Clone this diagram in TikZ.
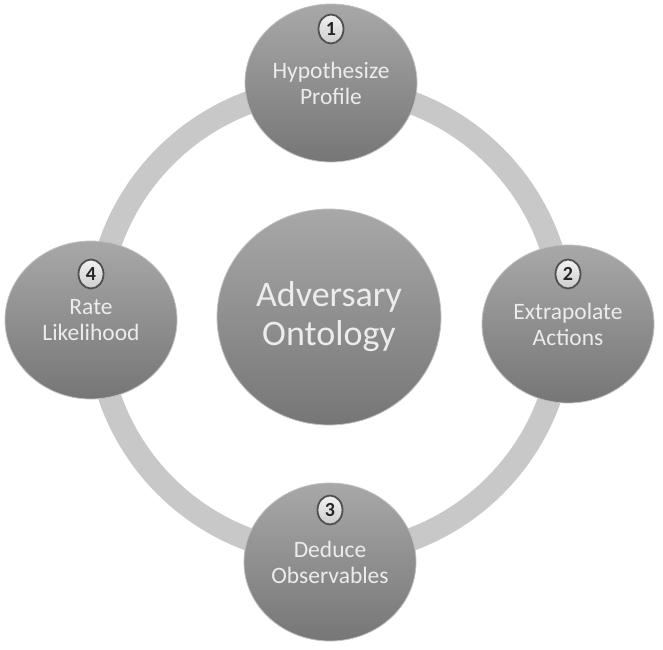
\documentclass[tikz,border=0pt]{standalone}
\usepackage{fontspec}
\setmainfont{Carlito}
\usetikzlibrary{shapes.geometric}
\definecolor{ringgray}{RGB}{200,200,200}
\definecolor{ctop}{RGB}{168,168,168}
\definecolor{cbot}{RGB}{118,118,118}
\definecolor{txt}{RGB}{236,236,236}
\definecolor{badgefill}{RGB}{205,205,205}
\definecolor{badgeline}{RGB}{80,80,80}
\begin{document}
\begin{tikzpicture}[x=1pt,y=-1pt,
  stage/.style={ellipse, minimum width=172pt, minimum height=158pt, inner sep=0pt,
    top color=ctop, bottom color=cbot, draw=white!75!black, line width=0.8pt,
    text=txt, font=\fontsize{23.5}{26}\selectfont, align=center},
  hub/.style={stage, minimum width=224pt, minimum height=216pt,
    font=\fontsize{36}{39}\selectfont},
  badge/.style={ellipse, minimum width=25pt, minimum height=29pt, inner sep=0pt,
    top color=white!95!black, bottom color=badgefill, draw=badgeline, line width=1.8pt,
    font=\fontsize{20}{20}\selectfont\bfseries, text=black!85},
  ring/.style={draw=ringgray, line width=23pt}]
\useasboundingbox (0,0) rectangle (663,649);
\coordinate (ctr) at (330,321);
\draw[ring] (ctr) circle[radius=233];
\node[hub] (hub) at (329,317) {Adversary\\Ontology};
\node[stage] (s1) at (331,83) {Hypothesize\\Profile};
\node[stage] (s2) at (568,324) {Extrapolate\\Actions};
\node[stage] (s3) at (330,562) {Deduce\\Observables};
\node[stage] (s4) at (91,320) {Rate\\Likelihood};
\node[badge] (b1) at ([yshift=54pt]s1.center) {1};
\node[badge] (b2) at ([yshift=50pt]s2.center) {2};
\node[badge] (b3) at ([yshift=52pt]s3.center) {3};
\node[badge] (b4) at ([yshift=46pt]s4.center) {4};
\end{tikzpicture}
\end{document}
